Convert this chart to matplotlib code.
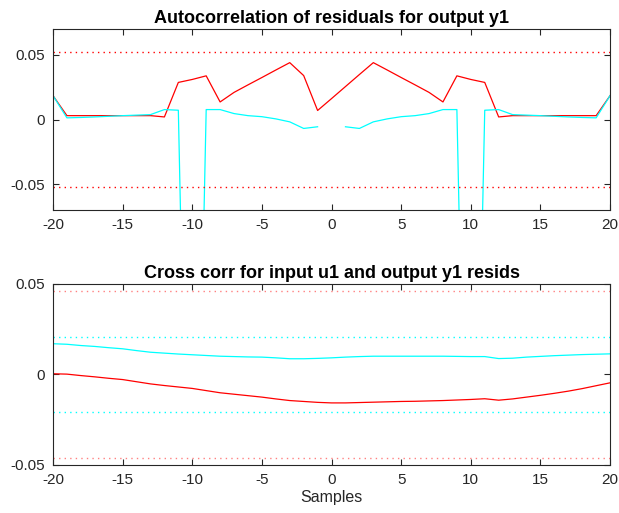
import numpy as np
import matplotlib
matplotlib.use("Agg")
import matplotlib.pyplot as plt

plt.rcParams['font.family'] = ['Liberation Sans', 'DejaVu Sans']
plt.rcParams['axes.unicode_minus'] = False

lags = np.arange(-20, 21)

# autocorrelation of residuals (two models)
auto_red = [0.0185, 0.003, 0.003, 0.003, 0.003, 0.003, 0.003, 0.003, 0.002, 0.0287,
            0.031, 0.0338, 0.0136, 0.021, 0.0268, 0.0325, 0.0383, 0.044, 0.034, 0.007,
            0.0162,
            0.0255, 0.0348, 0.044, 0.0383, 0.0325, 0.0268, 0.021, 0.0136, 0.0338, 0.031,
            0.0287, 0.002, 0.003, 0.003, 0.003, 0.003, 0.003, 0.003, 0.003, 0.0185]
auto_cyan = [0.0185, 0.0013, 0.0016, 0.002, 0.0025, 0.003, 0.0034, 0.0038, 0.0077, 0.0072,
             -0.5, 0.0077, 0.0077, 0.0046, 0.003, 0.0022, 0.0005, -0.0018, -0.0069, -0.0056,
             np.nan,
             -0.0056, -0.0069, -0.0018, 0.0005, 0.0022, 0.003, 0.0046, 0.0077, 0.0077, -0.5,
             0.0072, 0.0077, 0.0038, 0.0034, 0.003, 0.0025, 0.002, 0.0016, 0.0013, 0.0185]
auto_conf = 0.052

# cross correlation input u1 / residuals
cross_cyan = [0.0170, 0.0167, 0.0160, 0.0155, 0.0148, 0.0142, 0.0132, 0.0123, 0.0118, 0.0113,
              0.0109, 0.0105, 0.0101, 0.0099, 0.0097, 0.0096, 0.0092, 0.0087, 0.0087, 0.0089,
              0.0092, 0.0096, 0.0099, 0.0101, 0.0101, 0.0101, 0.0101, 0.0101, 0.0101, 0.0100,
              0.0099, 0.0099, 0.0088, 0.0090, 0.0096, 0.0100, 0.0104, 0.0107, 0.0110, 0.0112,
              0.0114]
cross_red = [0.0004, 0.0002, -0.0006, -0.0013, -0.0021, -0.0028, -0.0040, -0.0052, -0.0061, -0.0069,
             -0.0077, -0.0089, -0.0101, -0.0109, -0.0117, -0.0125, -0.0135, -0.0144, -0.0149, -0.0154,
             -0.0157, -0.0157, -0.0155, -0.0153, -0.0151, -0.0149, -0.0148, -0.0146, -0.0144, -0.0141,
             -0.0138, -0.0134, -0.0142, -0.0135, -0.0125, -0.0115, -0.0104, -0.0092, -0.0078, -0.0062,
             -0.0046]
cross_conf_red = 0.046
cross_conf_cyan = 0.0207

RED = (1, 0, 0)
CYAN = (0, 1, 1)
dots = (0, (1, 3))

fig = plt.figure(figsize=(6.19, 5.13), dpi=100)
ax1 = fig.add_axes([0.0856, 0.5906, 0.900, 0.3528])
ax2 = fig.add_axes([0.0856, 0.0936, 0.900, 0.3528])


def style(ax):
    ax.set_xlim(-20, 20)
    ax.set_xticks(np.arange(-20, 21, 5))
    ax.tick_params(direction='in', top=True, right=True, length=4, width=0.8,
                   color='#262626', labelsize=11, labelcolor='#262626', pad=6)
    for s in ax.spines.values():
        s.set_color('#262626')
        s.set_linewidth(0.8)


ax1.plot(lags, auto_red, color=RED, lw=0.9)
ax1.plot(lags, auto_cyan, color=CYAN, lw=0.9)
ax1.axhline(auto_conf, color=RED, ls=dots, lw=1)
ax1.axhline(-auto_conf, color=RED, ls=dots, lw=1)
ax1.set_ylim(-0.07, 0.07)
ax1.set_yticks([-0.05, 0, 0.05])
ax1.set_yticklabels(['-0.05', '0', '0.05'])
ax1.set_title('Autocorrelation of residuals for output y1', fontsize=13,
              fontweight='bold', pad=4)
style(ax1)

ax2.plot(lags, cross_cyan, color=CYAN, lw=0.9)
ax2.plot(lags, cross_red, color=RED, lw=0.9)
ax2.axhline(cross_conf_red, color=(1, 0.5, 0.5), ls=dots, lw=1)
ax2.axhline(-cross_conf_red, color=(1, 0.5, 0.5), ls=dots, lw=1)
ax2.axhline(cross_conf_cyan, color=CYAN, ls=dots, lw=1)
ax2.axhline(-cross_conf_cyan, color=CYAN, ls=dots, lw=1)
ax2.set_ylim(-0.05, 0.05)
ax2.set_yticks([-0.05, 0, 0.05])
ax2.set_yticklabels(['-0.05', '0', '0.05'])
ax2.set_title('Cross corr for input u1 and output y1 resids', fontsize=13,
              fontweight='bold', pad=4)
ax2.set_xlabel('Samples', fontsize=11.5, color='#262626', labelpad=2)
style(ax2)

fig.savefig('out.png', dpi=100)
